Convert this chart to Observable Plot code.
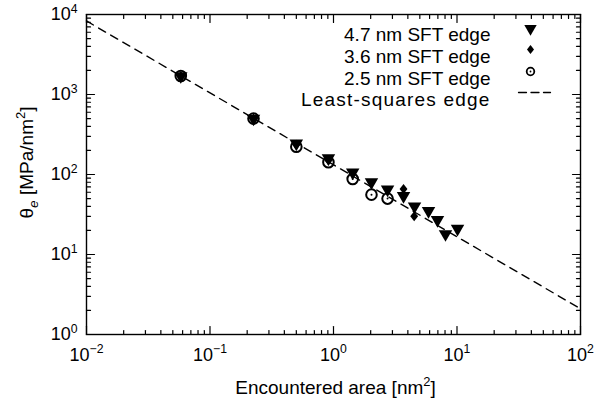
<!DOCTYPE html>
<html><head><meta charset="utf-8">
<script src="https://cdn.jsdelivr.net/npm/d3@7"></script>
<script src="https://cdn.jsdelivr.net/npm/@observablehq/plot@0.6"></script>
<style>body{margin:0;background:#fff}#chart{width:596px;height:406px}</style>
</head><body><div id="chart"></div>
<script>
// ---- data ----
const xTicks = [0.01, 0.1, 1, 10, 100];
const xTickLabels = ["10^−2", "10^−1", "10^0", "10^1", "10^2"];
const yTicks = [1, 10, 100, 1000, 10000];
const yTickLabels = ["10^0", "10^1", "10^2", "10^3", "10^4"];

const sft47X = [0.058, 0.225, 0.50, 0.91, 1.43, 2.03, 2.74, 3.69, 4.53, 5.88, 6.95, 8.07, 10.1];
const sft47Y = [1700, 500, 245, 160, 106, 80, 65, 54, 40, 35, 27, 18, 21];
const sft36X = [0.058, 0.225, 0.50, 0.91, 3.69, 4.5];
const sft36Y = [1700, 500, 235, 150, 66, 30];
const sft25X = [0.058, 0.225, 0.50, 0.91, 1.43, 2.03, 2.74];
const sft25Y = [1700, 500, 222, 142, 88, 56, 50];
const fitX = [0.01, 100];
const fitY = [8300, 2.1];

const legendLabels = ["4.7 nm SFT edge", "3.6 nm SFT edge", "2.5 nm SFT edge", "Least-squares edge"];
const xTitle = "Encountered area [nm^2]";
const yTitle = "θ_e [MPa/nm^2]";

// ---- helpers ----
const minorOf = (majors) => {
  const out = [];
  for (let i = 0; i < majors.length - 1; i++) for (let k = 2; k <= 9; k++) out.push(majors[i] * k);
  return out;
};
const xMinor = minorOf(xTicks), yMinor = minorOf(yTicks);
const tickShape = {draw(ctx, l) { ctx.moveTo(0, 0); ctx.lineTo(0, -l); }};
const diamond = {draw(ctx, size) {
  const s = Math.sqrt(size), h = 0.94 * s, w = 0.74 * s;
  ctx.moveTo(0, -h); ctx.lineTo(w, 0); ctx.lineTo(0, h); ctx.lineTo(-w, 0); ctx.closePath();
}};
const pts = (xs, ys) => xs.map((x, i) => ({x, y: ys[i]}));

const tickMarks = [];
for (const [vals, len] of [[xTicks, 8], [xMinor, 4]]) {
  tickMarks.push(Plot.vector(vals, {x: d => d, frameAnchor: "bottom", rotate: 0, length: len, anchor: "start", shape: tickShape, stroke: "black", strokeWidth: 1.2}));
  tickMarks.push(Plot.vector(vals, {x: d => d, frameAnchor: "top", rotate: 180, length: len, anchor: "start", shape: tickShape, stroke: "black", strokeWidth: 1.2}));
}
for (const [vals, len] of [[yTicks, 8], [yMinor, 4]]) {
  tickMarks.push(Plot.vector(vals, {y: d => d, frameAnchor: "left", rotate: 90, length: len, anchor: "start", shape: tickShape, stroke: "black", strokeWidth: 1.2}));
  tickMarks.push(Plot.vector(vals, {y: d => d, frameAnchor: "right", rotate: 270, length: len, anchor: "start", shape: tickShape, stroke: "black", strokeWidth: 1.2}));
}

// legend rows
const rowDy = [13, 35, 57, 78];
const legendSpacing = [0, 0, 0, 1.2];
const legendMarks = [];
legendLabels.forEach((lab, i) => {
  legendMarks.push(Plot.text([lab], {text: d => d, frameAnchor: "top-right", textAnchor: "end", dx: -90, dy: rowDy[i], fontSize: 19, className: "leg" + i}));
});
legendMarks.push(Plot.dot([0], {frameAnchor: "top-right", dx: -50, dy: rowDy[0] + 1, symbol: "triangle", rotate: 180, r: 4.6, fill: "black", stroke: "none"}));
legendMarks.push(Plot.dot([0], {frameAnchor: "top-right", dx: -50, dy: rowDy[1], symbol: diamond, r: 2.7, fill: "black", stroke: "none"}));
legendMarks.push(Plot.dot([0], {frameAnchor: "top-right", dx: -50, dy: rowDy[2], symbol: "circle", r: 3.8, fill: "none", stroke: "black", strokeWidth: 1.8}));
legendMarks.push(Plot.dot([0], {frameAnchor: "top-right", dx: -50, dy: rowDy[2], symbol: "circle", r: 0.9, fill: "black", stroke: "none"}));
legendMarks.push(Plot.vector([0], {frameAnchor: "top-right", dx: -62, dy: rowDy[3], rotate: 90, length: 32, anchor: "start", shape: tickShape, stroke: "black", strokeWidth: 1.3, strokeDasharray: "8,4.5"}));

const chart = Plot.plot({
  width: 596, height: 406,
  marginLeft: 86, marginRight: 16, marginTop: 14, marginBottom: 72,
  x: {type: "log", domain: [0.01, 100], axis: null},
  y: {type: "log", domain: [1, 10000], axis: null},
  style: {fontFamily: "'Liberation Sans', Arial, Helvetica, sans-serif", fontSize: "18px", color: "black", background: "white"},
  marks: [
    Plot.line(pts(fitX, fitY), {x: "x", y: "y", stroke: "black", strokeWidth: 1.4, strokeDasharray: "8,6"}),
    Plot.dot(pts(sft47X, sft47Y), {x: "x", y: "y", symbol: "triangle", rotate: 180, r: 5, fill: "black", stroke: "none"}),
    Plot.dot(pts(sft36X, sft36Y), {x: "x", y: "y", symbol: diamond, r: 3, fill: "black", stroke: "none"}),
    Plot.dot(pts(sft25X, sft25Y), {x: "x", y: "y", symbol: "circle", r: 5.3, fill: "none", stroke: "black", strokeWidth: 2}),
    Plot.dot(pts(sft25X, sft25Y), {x: "x", y: "y", symbol: "circle", r: 1, fill: "black", stroke: "none"}),
    ...tickMarks,
    Plot.frame({stroke: "black", strokeWidth: 1.4}),
    Plot.text(xTicks, {x: d => d, text: (d, i) => xTickLabels[i], frameAnchor: "bottom", dy: 26, dx: 0, fontSize: 18}),
    Plot.text(yTicks, {y: d => d, text: (d, i) => yTickLabels[i], frameAnchor: "left", textAnchor: "end", dx: -9, fontSize: 18}),
    Plot.text([xTitle], {text: d => d, frameAnchor: "bottom", textAnchor: "middle", dy: 59, dx: 2, fontSize: 19}),
    Plot.text([yTitle], {text: d => d, frameAnchor: "left", textAnchor: "middle", dx: -60, dy: -12, rotate: -90, fontSize: 19}),
    ...legendMarks
  ]
});
document.getElementById("chart").appendChild(chart);

// letter spacing for the wider legend row
legendSpacing.forEach((sp, i) => {
  if (sp) d3.select(chart).selectAll(".leg" + i + " text").attr("letter-spacing", sp);
});

// rich text: ^sup and _sub
d3.select(chart).selectAll("text").each(function () {
  const el = this;
  const s = el.textContent;
  if (!/[\^_]/.test(s)) return;
  const fs = parseFloat(getComputedStyle(el).fontSize) || 18;
  el.textContent = "";
  const parts = s.split(/(\^[^\s\]]+|_[a-z])/).filter(p => p);
  let shift = 0;
  parts.forEach(p => {
    const t = document.createElementNS("http://www.w3.org/2000/svg", "tspan");
    let target = 0, size = null, italic = false, txt = p;
    if (p[0] === "^") { target = -0.42 * fs; size = 0.68 * fs; txt = p.slice(1); }
    else if (p[0] === "_") { target = 0.28 * fs; size = 0.72 * fs; txt = p.slice(1); italic = true; }
    if (target - shift !== 0) t.setAttribute("dy", target - shift);
    shift = target;
    if (size) t.setAttribute("font-size", size);
    if (italic) t.setAttribute("font-style", "italic");
    t.textContent = txt;
    el.appendChild(t);
  });
});
</script>
</body></html>
